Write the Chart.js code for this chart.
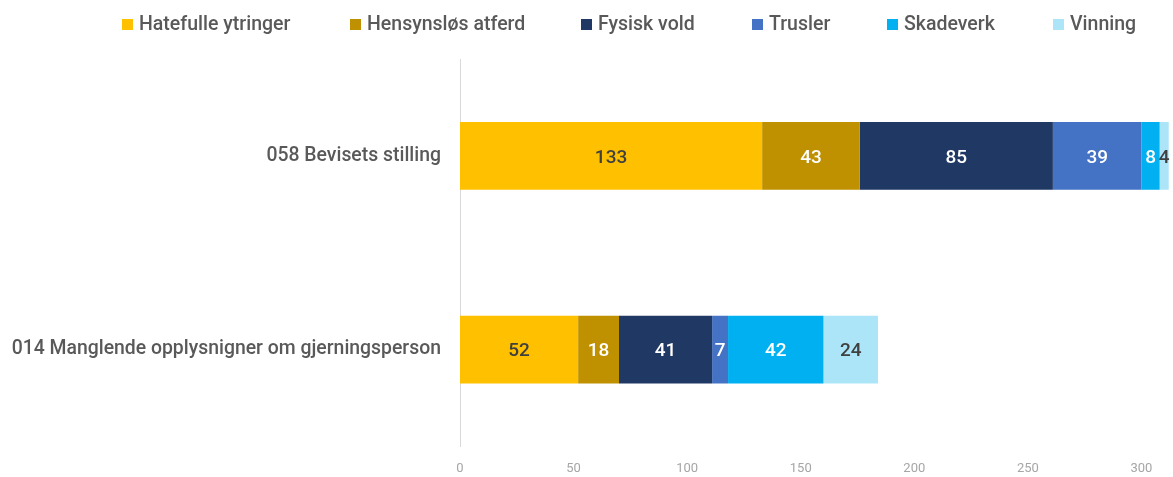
<!DOCTYPE html>
<html><head><meta charset="utf-8">
<script src="https://cdn.jsdelivr.net/npm/chart.js@4"></script>
<style>html,body{margin:0;padding:0;background:#fff;overflow:hidden}#wrap{width:1173px;height:477px}</style>
</head><body><div id="wrap"><canvas id="c"></canvas></div>
<script>
const categories = ["058 Bevisets stilling", "014 Manglende opplysnigner om gjerningsperson"];
const seriesNames = ["Hatefulle ytringer", "Hensynsløs atferd", "Fysisk vold", "Trusler", "Skadeverk", "Vinning"];
const hatefulle = [133, 52];
const hensynslos = [43, 18];
const fysiskVold = [85, 41];
const trusler = [39, 7];
const skadeverk = [8, 42];
const vinning = [4, 24];
const xTicks = [0, 50, 100, 150, 200, 250, 300];

const colors = ["#FFC000", "#BF9000", "#203864", "#4472C4", "#00B0F0", "#ADE5F8"];
const labelColors = ["#404040", "#ffffff", "#ffffff", "#ffffff", "#ffffff", "#404040"];
const values = [hatefulle, hensynslos, fysiskVold, trusler, skadeverk, vinning];
const FONT = "Roboto, 'DejaVu Sans', sans-serif";
const legendBoxX = [122, 350, 581, 752, 887, 1053];

const valueLabels = {
  id: 'valueLabels',
  afterDatasetsDraw(chart) {
    const ctx = chart.ctx;
    ctx.save();
    ctx.font = "500 19px " + FONT;
    ctx.textAlign = 'center';
    ctx.textBaseline = 'middle';
    chart.data.datasets.forEach((ds, i) => {
      const meta = chart.getDatasetMeta(i);
      meta.data.forEach((bar, j) => {
        const v = ds.data[j];
        const cx = (bar.x + bar.base) / 2;
        ctx.fillStyle = labelColors[i];
        ctx.fillText(String(v), cx, bar.y + 2);
      });
    });
    ctx.restore();
  }
};

const customLegend = {
  id: 'customLegend',
  afterDraw(chart) {
    const ctx = chart.ctx;
    ctx.save();
    ctx.font = "500 19.5px " + FONT;
    ctx.textBaseline = 'middle';
    ctx.textAlign = 'left';
    chart.data.datasets.forEach((ds, i) => {
      const x = legendBoxX[i];
      ctx.fillStyle = ds.backgroundColor;
      ctx.fillRect(x, 19, 11, 11);
      ctx.fillStyle = '#595959';
      ctx.fillText(ds.label, x + 17, 25.5);
    });
    ctx.restore();
  }
};

new Chart(document.getElementById('c'), {
  type: 'bar',
  data: {
    labels: categories,
    datasets: seriesNames.map((n, i) => ({
      label: n, data: values[i], backgroundColor: colors[i], borderWidth: 0,
      barPercentage: 0.7, categoryPercentage: 0.5
    }))
  },
  options: {
    indexAxis: 'y',
    responsive: true,
    maintainAspectRatio: false,
    animation: false,
    layout: { padding: { left: 0, right: 2, top: 59, bottom: 0 } },
    plugins: {
      legend: { display: false },
      tooltip: { enabled: false }
    },
    scales: {
      x: {
        stacked: true, min: 0, max: 313,
        grid: { display: false, drawTicks: false },
        border: { display: false },
        afterBuildTicks(s) { s.ticks = xTicks.map(v => ({ value: v })); },
        afterFit(s) { s.height = 28; },
        ticks: { color: '#a6a6a6', font: { family: FONT, size: 13 }, padding: 15 }
      },
      y: {
        stacked: true,
        grid: { display: false, drawTicks: false },
        border: { display: true, color: '#d9d9d9', width: 1 },
        afterFit(s) { s.width = 460; },
        ticks: { color: '#595959', font: { family: FONT, size: 19.4, weight: '500' }, padding: 19 }
      }
    }
  },
  plugins: [valueLabels, customLegend]
});
</script></body></html>
